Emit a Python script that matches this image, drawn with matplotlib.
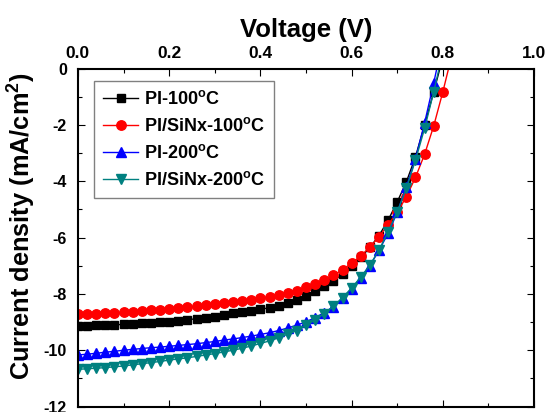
import numpy as np
import matplotlib
matplotlib.use('Agg')
import matplotlib.pyplot as plt
from matplotlib.ticker import MultipleLocator

plt.rcParams['font.family'] = ['Liberation Sans', 'DejaVu Sans']
plt.rcParams['font.weight'] = 'bold'
plt.rcParams['mathtext.fontset'] = 'custom'
plt.rcParams['mathtext.rm'] = 'Liberation Sans:bold'
plt.rcParams['mathtext.bf'] = 'Liberation Sans:bold'
plt.rcParams['mathtext.default'] = 'bf'
plt.rcParams['axes.unicode_minus'] = False

# Tegangan (V), titik tiap 0.02 V
v_pi100 = [0.00, 0.02, 0.04, 0.06, 0.08, 0.10, 0.12, 0.14, 0.16, 0.18,
           0.20, 0.22, 0.24, 0.26, 0.28, 0.30, 0.32, 0.34, 0.36, 0.38,
           0.40, 0.42, 0.44, 0.46, 0.48, 0.50, 0.52, 0.54, 0.56, 0.58,
           0.60, 0.62, 0.64, 0.66, 0.68, 0.70, 0.72, 0.74, 0.76, 0.78, 0.80]
j_pi100 = [-9.14, -9.13, -9.12, -9.11, -9.10, -9.08, -9.07, -9.05, -9.03, -9.01,
           -8.99, -8.96, -8.92, -8.88, -8.85, -8.81, -8.75, -8.69, -8.65, -8.60,
           -8.55, -8.49, -8.42, -8.33, -8.20, -8.07, -7.90, -7.72, -7.53, -7.30,
           -7.02, -6.70, -6.35, -5.93, -5.38, -4.73, -4.02, -3.13, -2.00, -0.82, 0.40]

v_sinx100 = [0.00, 0.02, 0.04, 0.06, 0.08, 0.10, 0.12, 0.14, 0.16, 0.18,
             0.20, 0.22, 0.24, 0.26, 0.28, 0.30, 0.32, 0.34, 0.36, 0.38,
             0.40, 0.42, 0.44, 0.46, 0.48, 0.50, 0.52, 0.54, 0.56, 0.58,
             0.60, 0.62, 0.64, 0.66, 0.68, 0.70, 0.72, 0.74, 0.76, 0.78, 0.80, 0.82]
j_sinx100 = [-8.73, -8.72, -8.71, -8.69, -8.68, -8.66, -8.63, -8.61, -8.58, -8.56,
             -8.53, -8.50, -8.47, -8.44, -8.41, -8.37, -8.33, -8.29, -8.25, -8.21,
             -8.16, -8.10, -8.04, -7.97, -7.88, -7.77, -7.65, -7.51, -7.34, -7.14,
             -6.91, -6.65, -6.34, -5.97, -5.54, -5.10, -4.55, -3.86, -3.04, -2.03, -0.82, 0.50]

v_pi200 = [0.00, 0.02, 0.04, 0.06, 0.08, 0.10, 0.12, 0.14, 0.16, 0.18,
           0.20, 0.22, 0.24, 0.26, 0.28, 0.30, 0.32, 0.34, 0.36, 0.38,
           0.40, 0.42, 0.44, 0.46, 0.48, 0.50, 0.52, 0.54, 0.56, 0.58,
           0.60, 0.62, 0.64, 0.66, 0.68, 0.70, 0.72, 0.74, 0.76, 0.78, 0.80]
j_pi200 = [-10.17, -10.14, -10.11, -10.07, -10.04, -10.00, -9.97, -9.94, -9.91, -9.89,
           -9.86, -9.83, -9.80, -9.77, -9.73, -9.69, -9.64, -9.60, -9.55, -9.50,
           -9.44, -9.38, -9.30, -9.21, -9.11, -8.99, -8.84, -8.67, -8.45, -8.15,
           -7.82, -7.43, -7.00, -6.45, -5.85, -5.10, -4.20, -3.20, -1.92, -0.50, 1.00]

v_sinx200 = [0.00, 0.02, 0.04, 0.06, 0.08, 0.10, 0.12, 0.14, 0.16, 0.18,
             0.20, 0.22, 0.24, 0.26, 0.28, 0.30, 0.32, 0.34, 0.36, 0.38,
             0.40, 0.42, 0.44, 0.46, 0.48, 0.50, 0.52, 0.54, 0.56, 0.58,
             0.60, 0.62, 0.64, 0.66, 0.68, 0.70, 0.72, 0.74, 0.76, 0.78, 0.80]
j_sinx200 = [-10.68, -10.66, -10.64, -10.62, -10.59, -10.56, -10.52, -10.48, -10.44, -10.40,
             -10.35, -10.31, -10.27, -10.22, -10.17, -10.12, -10.06, -10.00, -9.93, -9.85,
             -9.76, -9.67, -9.56, -9.43, -9.30, -9.12, -8.92, -8.70, -8.44, -8.13,
             -7.79, -7.40, -6.98, -6.44, -5.80, -5.08, -4.25, -3.25, -2.12, -0.82, 0.60]

label_seri = [r'PI-100$^{o}$C', r'PI/SiNx-100$^{o}$C', r'PI-200$^{o}$C', r'PI/SiNx-200$^{o}$C']

fig = plt.figure(figsize=(5.45, 4.12), dpi=100)
ax = fig.add_axes([0.143, 0.0133, 0.837, 0.820])

ax.plot(v_pi100, j_pi100, color='black', marker='s', markersize=5.5, lw=1.0, label=label_seri[0])
ax.plot(v_sinx100, j_sinx100, color='red', marker='o', markersize=6.8, lw=1.0, label=label_seri[1])
ax.plot(v_pi200, j_pi200, color='blue', marker='^', markersize=6.5, lw=1.0, label=label_seri[2])
ax.plot(v_sinx200, j_sinx200, color='#008080', marker='v', markersize=6.5, lw=1.0, label=label_seri[3])

ax.set_xlim(0, 1.0)
ax.set_ylim(-12, 0)
ax.xaxis.set_minor_locator(MultipleLocator(0.1))
ax.yaxis.set_major_locator(MultipleLocator(2))
ax.yaxis.set_minor_locator(MultipleLocator(1))
ax.set_xticks(np.arange(0, 1.01, 0.2))
ax.set_xticklabels(['0.0', '0.2', '0.4', '0.6', '0.8', '1.0'])

ax.xaxis.set_label_position('top')
ax.tick_params(which='both', direction='in', top=True, bottom=True, left=True, right=True,
               labeltop=True, labelbottom=False, width=0.8)
ax.tick_params(axis='x', labelsize=12.5, pad=5.5)
ax.tick_params(axis='y', labelsize=11.5, pad=8)
ax.tick_params(which='major', length=5)
ax.tick_params(which='minor', length=3)
for s in ax.spines.values():
    s.set_linewidth(1.5)

ax.set_xlabel('Voltage (V)', fontsize=18.5, fontweight='bold')
ax.xaxis.set_label_coords(0.5, 1.093)
ax.set_ylabel(r'Current density (mA/cm$^{2}$)', fontsize=18.3, fontweight='bold')
ax.yaxis.set_label_coords(-0.088, 0.533)

leg = ax.legend(loc='upper left', bbox_to_anchor=(0.035, 0.964), borderaxespad=0,
                fontsize=13, numpoints=1, handlelength=1.95, handletextpad=0.35,
                labelspacing=0.5, borderpad=0.5,
                fancybox=False, edgecolor='gray', framealpha=1)
leg.get_frame().set_linewidth(1.0)

fig.savefig('out.png', dpi=100)
